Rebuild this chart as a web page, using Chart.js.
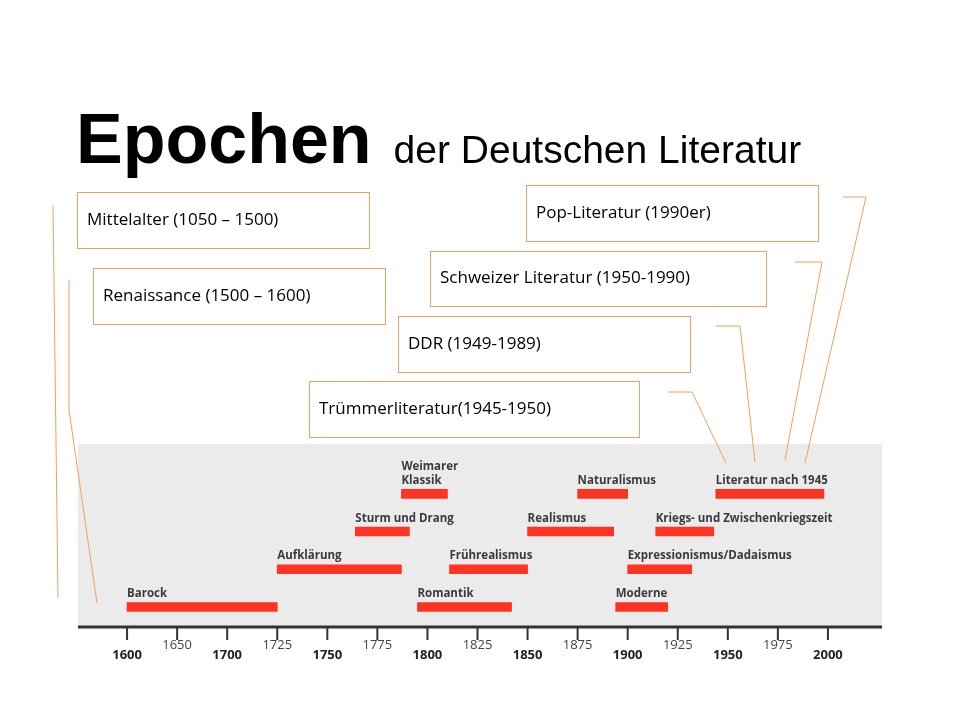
<!DOCTYPE html>
<html><head><meta charset="utf-8">
<script src="https://cdn.jsdelivr.net/npm/chart.js@4.4.0/dist/chart.umd.min.js"></script>
<style>html,body{margin:0;background:#fff}#w{width:960px;height:720px;position:relative}</style>
</head><body><div id="w"><canvas id="c"></canvas></div>
<script>
const epochs = ["Barock","Romantik","Moderne","Aufklärung","Frührealismus","Expressionismus/Dadaismus","Sturm und Drang","Realismus","Kriegs- und Zwischenkriegszeit","Weimarer\nKlassik","Naturalismus","Literatur nach 1945"];
const starts = [1600,1795,1894,1725,1811,1900,1764,1850,1914,1787,1875,1944];
const ends   = [1725,1842,1920,1787,1850,1932,1791,1893,1943,1810,1900,1998];
const rows   = [0,0,0,1,1,1,2,2,2,3,3,3];
const tickYears = [1600,1650,1700,1725,1750,1775,1800,1825,1850,1875,1900,1925,1950,1975,2000];
const boldTicks = [1600,1700,1750,1800,1850,1900,1950,2000];
const notes = ["Mittelalter (1050 – 1500)","Renaissance (1500 – 1600)","Pop-Literatur (1990er)","Schweizer Literatur (1950-1990)","DDR (1949-1989)","Trümmerliteratur(1945-1950)"];

// piecewise time axis as in the source: 1600-1700 compressed
function pos(y){ return y<1700 ? (y-1600)/50 : 2+(y-1700)/25; }

const data = epochs.map((e,i)=>({x:[pos(starts[i]),pos(ends[i])], y:rows[i], label:e}));

const orange = '#f0a060';
const deco = {
  id:'deco',
  beforeDraw(ch){
    const {ctx,chartArea:a}=ch;
    ctx.save();
    ctx.fillStyle='#ebebeb';
    ctx.fillRect(a.left,a.top,a.right-a.left,a.bottom-a.top);
    ctx.restore();
  },
  afterDraw(ch){
    const {ctx,chartArea:a}=ch;
    const xs=ch.scales.x, ys=ch.scales.y;
    ctx.save();
    ctx.strokeStyle='#333'; ctx.lineWidth=3;
    ctx.beginPath(); ctx.moveTo(a.left,a.bottom); ctx.lineTo(a.right,a.bottom); ctx.stroke();
    ctx.lineWidth=2;
    ctx.textAlign='center'; ctx.textBaseline='middle';
    tickYears.forEach(t=>{
      const px=xs.getPixelForValue(pos(t));
      ctx.beginPath(); ctx.moveTo(px,a.bottom); ctx.lineTo(px,a.bottom+13); ctx.stroke();
      const b=boldTicks.includes(t);
      ctx.fillStyle=b?'#222':'#444';
      ctx.font=(b?'bold ':'')+'13px "Open Sans"';
      ctx.fillText(String(t),px,b?a.bottom+28:a.bottom+18);
    });
    ctx.textAlign='left'; ctx.textBaseline='alphabetic';
    ctx.fillStyle='#3a3a3a'; ctx.font='bold 11.5px "Open Sans"';
    data.forEach(d=>{
      const px=xs.getPixelForValue(d.x[0]), py=ys.getPixelForValue(d.y);
      const lines=d.label.split('\n');
      lines.forEach((l,k)=>ctx.fillText(l,px,py-10-(lines.length-1-k)*14));
    });
    ctx.fillStyle='#000';
    ctx.font='bold 70px "Liberation Sans"';
    ctx.fillText('Epochen',76,163);
    const w=ctx.measureText('Epochen').width;
    ctx.font='39px "Liberation Sans"';
    ctx.fillText('der Deutschen Literatur',76+w+22,163);
    const boxes=[[77,192,292,56],[93,268,292,56],[526,185,292,56],[430,251,336,55],[398,316,292,56],[309,381,330,56]];
    ctx.font='17px "Open Sans"';
    boxes.forEach((b,i)=>{
      ctx.strokeStyle=orange; ctx.lineWidth=1;
      ctx.strokeRect(b[0]+.5,b[1]+.5,b[2],b[3]);
      ctx.fillStyle='#000'; ctx.textBaseline='middle';
      ctx.fillText(notes[i],b[0]+10,b[1]+b[3]/2);
    });
    const lines=[[[53,205],[58,598]],[[69,280],[69,410],[97,603]],[[668,392],[692,392],[726,463]],[[716,326],[740,326],[755,462]],[[795,262],[822,262],[785,460]],[[843,197],[866,197],[805,463]]];
    ctx.strokeStyle=orange; ctx.lineWidth=1;
    lines.forEach(l=>{ctx.beginPath();ctx.moveTo(...l[0]);l.slice(1).forEach(p=>ctx.lineTo(...p));ctx.stroke();});
    ctx.restore();
  }
};

new Chart(document.getElementById('c'),{
  type:'bar',
  data:{datasets:[{data, backgroundColor:'#ff3322', barThickness:9, borderSkipped:false}]},
  options:{
    indexAxis:'y', responsive:true, maintainAspectRatio:false, animation:false,
    layout:{padding:{left:78,right:78,top:444,bottom:93}},
    plugins:{legend:{display:false},tooltip:{enabled:false}},
    scales:{
      x:{type:'linear',min:-0.98,max:15.08,display:false},
      y:{type:'linear',min:-0.53,max:4.32,offset:false,display:false}
    }
  },
  plugins:[deco]
});
</script></body></html>
